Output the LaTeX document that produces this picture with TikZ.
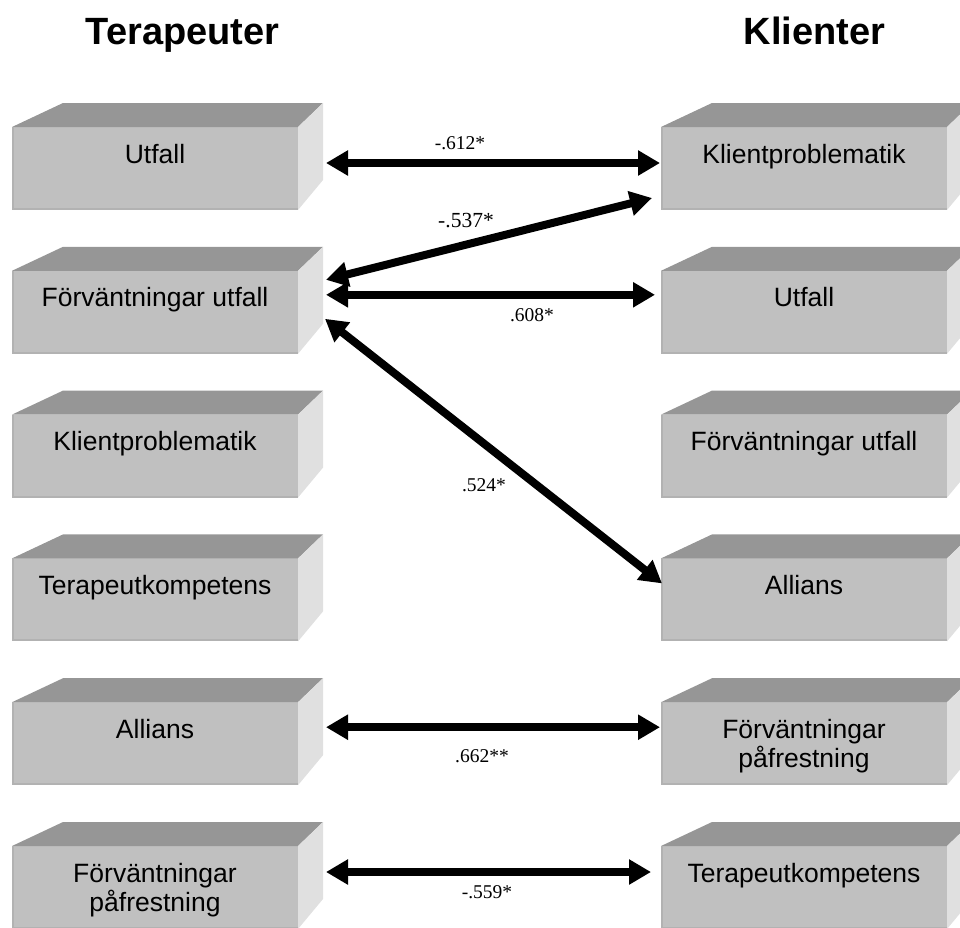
\documentclass[tikz,border=0pt]{standalone}
\usepackage{fontspec}
\setmainfont{Liberation Sans}
\newfontfamily\labelfont{Liberation Serif}
\usetikzlibrary{arrows.meta}
\definecolor{frontc}{HTML}{C0C0C0}
\definecolor{topc}{HTML}{969696}
\definecolor{sidec}{HTML}{E0E0E0}
\definecolor{edgec}{HTML}{B2B2B2}
\tikzset{
  front/.style={fill=frontc, minimum width=286pt, minimum height=83pt, inner sep=0pt, outer sep=0pt},
  boxtext/.style={font=\fontsize{26.5}{29}\selectfont, align=center, inner sep=0pt, anchor=base},
  title/.style={font=\fontsize{38}{41}\selectfont\bfseries, inner sep=0pt, anchor=base},
  corr/.style={font=\labelfont\fontsize{19.5}{22}\selectfont, inner sep=0pt, anchor=base},
  corrbig/.style={font=\labelfont\fontsize{21.5}{24}\selectfont, inner sep=0pt, anchor=base},
  dbl/.style={line width=8pt, {Triangle[length=22pt,width=24pt]}-{Triangle[length=22pt,width=24pt]}}
}
% #1 name, #2 x, #3 top of front face, #4 baseline offset of last line, #5 text
\newcommand\cuboid[5]{%
  \node[front, anchor=north west] (#1) at (#2,#3) {};
  \fill[topc] (#1.north west) -- (#1.north east) -- ([xshift=25pt,yshift=24pt]#1.north east)
     -- ([xshift=51pt,yshift=24pt]#1.north west) -- cycle;
  \fill[sidec] (#1.north east) -- ([xshift=25pt,yshift=24pt]#1.north east)
     -- ([xshift=25pt,yshift=30pt]#1.south east) -- (#1.south east) -- cycle;
  \draw[edgec, line width=2pt] ([xshift=1pt]#1.north west) -- ([xshift=1pt,yshift=1pt]#1.south west)
     -- ([yshift=1pt]#1.south east);
  \node[boxtext] (#1t) at ([yshift=-#4pt]#1.north) {#5};
}
\begin{document}
\begin{tikzpicture}[x=1pt,y=-1pt]
\useasboundingbox (0,0) rectangle (960,927);
\clip (0,0) rectangle (960,927);

\node[title] (tL) at (182.5,44) {Terapeuter};
\node[title] (tR) at (814.5,44) {Klienter};

\cuboid{L0}{12}{127}{36}{Utfall}
\cuboid{L1}{12}{270.8}{36}{Förväntningar utfall}
\cuboid{L2}{12}{414.6}{36}{Klientproblematik}
\cuboid{L3}{12}{558.4}{36}{Terapeutkompetens}
\cuboid{L4}{12}{702.2}{36}{Allians}
\cuboid{L5}{12}{846}{65}{Förväntningar\\påfrestning}

\cuboid{R0}{661}{127}{36}{Klientproblematik}
\cuboid{R1}{661}{270.8}{36}{Utfall}
\cuboid{R2}{661}{414.6}{36}{Förväntningar utfall}
\cuboid{R3}{661}{558.4}{36}{Allians}
\cuboid{R4}{661}{702.2}{65}{Förväntningar\\påfrestning}
\cuboid{R5}{661}{846}{36}{Terapeutkompetens}

\draw[dbl] ([xshift=28pt,yshift=-36pt]L0.north east) -- ([xshift=-1pt,yshift=-36pt]R0.north west);
\draw[dbl] ([xshift=28pt,yshift=-9pt]L1.north east) -- ([xshift=-9pt,yshift=-71pt]R0.north west);
\draw[dbl] ([xshift=28pt,yshift=-24pt]L1.north east) -- ([xshift=-6pt,yshift=-24pt]R1.north west);
\draw[dbl] ([xshift=27pt,yshift=-48pt]L1.north east) -- ([xshift=1pt,yshift=-25pt]R3.north west);
\draw[dbl] ([xshift=28pt,yshift=-25pt]L4.north east) -- ([xshift=-1pt,yshift=-25pt]R4.north west);
\draw[dbl] ([xshift=28pt,yshift=-26pt]L5.north east) -- ([xshift=-10pt,yshift=-26pt]R5.north west);

\node[corr] (c1) at (460,149) {-.612*};
\node[corrbig] (c2) at (466,227) {-.537*};
\node[corr] (c3) at (532,321) {.608*};
\node[corr] (c4) at (484,491) {.524*};
\node[corr] (c5) at (482,762) {.662**};
\node[corr] (c6) at (487,898) {-.559*};
\end{tikzpicture}
\end{document}
